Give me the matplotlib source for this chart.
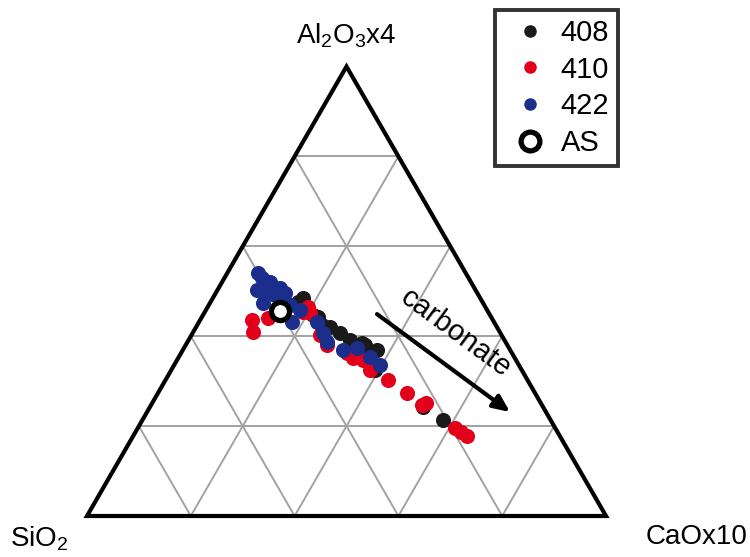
import numpy as np
import matplotlib
matplotlib.use('Agg')
from matplotlib import pyplot as plt
from matplotlib.lines import Line2D
import matplotlib.patches as patches

plt.rcParams['font.family'] = ['Liberation Sans', 'DejaVu Sans']
plt.rcParams['mathtext.fontset'] = 'custom'
plt.rcParams['mathtext.rm'] = 'Liberation Sans'
plt.rcParams['mathtext.default'] = 'regular'

# ---- compositions (%), columns: Al2O3x4, SiO2, CaOx10 ----
al_408 = [47.6, 44.3, 42.1, 40.7, 38.5, 36.5, 36.9, 38.0, 32.5, 24.3, 21.4, 44.7, 42.5, 39.2, 48.5]
si_408 = [35.5, 33.4, 32.2, 30.9, 27.8, 26.9, 25.7, 27.4, 28.3, 23.1, 20.7, 34.1, 33.5, 29.8, 34.1]
ca_408 = [16.9, 22.4, 25.8, 28.4, 33.7, 36.7, 37.4, 34.5, 39.3, 52.6, 57.9, 21.2, 24.0, 31.1, 17.4]

al_410 = [43.6, 40.9, 44.1, 45.4, 46.5, 45.2, 40.3, 38.0, 36.3, 35.2, 34.7, 32.5, 30.3, 27.4,
          24.7, 25.1, 19.6, 17.8, 18.7]
si_410 = [46.4, 47.6, 43.1, 35.7, 34.2, 34.4, 35.0, 34.7, 31.8, 31.2, 29.5, 29.2, 26.9, 24.7,
          23.1, 22.1, 19.3, 17.9, 18.6]
ca_410 = [10.0, 11.5, 12.8, 18.9, 19.3, 20.4, 24.7, 27.2, 32.0, 33.7, 35.8, 38.3, 42.9, 48.0,
          52.2, 52.8, 61.1, 64.3, 62.7]

al_422 = [54.1, 50.3, 53.0, 52.1, 50.7, 49.6, 47.4, 45.8, 43.2, 43.2, 40.7, 38.7, 36.9, 37.4,
          35.4, 33.6, 50.3, 49.2, 46.9]
si_422 = [40.0, 42.1, 39.8, 38.7, 37.5, 37.1, 42.4, 36.0, 38.9, 34.1, 34.2, 34.4, 32.2, 29.3,
          27.8, 26.8, 40.4, 39.2, 37.4]
ca_422 = [5.9, 7.6, 7.2, 9.2, 11.8, 13.3, 10.2, 18.1, 17.9, 22.7, 25.1, 26.9, 30.9, 33.3,
          36.8, 39.6, 9.4, 11.6, 15.6]

al_as, si_as, ca_as = [45.6], [40.0], [14.4]

grid_fracs = [0.2, 0.4, 0.6, 0.8]


def tern_xy(al, si, ca):
    al, si, ca = (np.asarray(v, dtype=float) for v in (al, si, ca))
    tot = al + si + ca
    a, c = al / tot, ca / tot
    return c + a / 2, a * np.sqrt(3) / 2


fig = plt.figure(figsize=(7.5, 5.57), dpi=100)
ax = fig.add_axes([0, 0, 1, 1])
ax.set_xlim(-87 / 519, 663 / 519)
ax.set_ylim(-41 / 519, 516 / 519)
ax.axis('off')

# grid lines
for f in grid_fracs:
    for p, q in [((f, 1 - f, 0), (f, 0, 1 - f)),
                 ((0, 1 - f, f), (1 - f, 0, f)),
                 ((0, f, 1 - f), (1 - f, f, 0))]:
        x0, y0 = tern_xy(*p)
        x1, y1 = tern_xy(*q)
        ax.plot([x0, x1], [y0, y1], color='#a2a2a2', lw=1.4, zorder=1)

# outline
tri = patches.Polygon([(0, 0), (1, 0), (0.5, np.sqrt(3) / 2)], closed=True,
                      fill=False, edgecolor='black', lw=3, joinstyle='miter', zorder=2)
ax.add_patch(tri)

c_blk, c_red, c_blu = '#1a1a1a', '#e3001b', '#1c2e8c'
ms = 118
ax.scatter(*tern_xy(al_408, si_408, ca_408), s=ms, color=c_blk, lw=0, zorder=3)
ax.scatter(*tern_xy(al_410, si_410, ca_410), s=ms, color=c_red, lw=0, zorder=4)
ax.scatter(*tern_xy(al_422, si_422, ca_422), s=ms, color=c_blu, lw=0, zorder=5)
ax.scatter(*tern_xy(al_as, si_as, ca_as), s=170, facecolor='white', edgecolor='black',
           linewidths=3.8, zorder=6)

# carbonate trend arrow
ax.annotate('', xy=(0.815, 0.2004), xytext=(0.5588, 0.389),
            arrowprops=dict(arrowstyle='-|>,head_length=1.0,head_width=0.45',
                            color='black', lw=3, shrinkA=0, shrinkB=0), zorder=7)
ax.text(0.711, 0.352, 'carbonate', rotation=-36.4, fontsize=21,
        ha='center', va='center', rotation_mode='anchor', zorder=7)

# apex labels
ax.text(0.5, 0.925, 'Al$_2$O$_3$x4', fontsize=20, ha='center', va='center')
ax.text(-0.148, -0.043, 'SiO$_2$', fontsize=20, ha='left', va='center')
ax.text(1.272, -0.041, 'CaOx10', fontsize=20, ha='right', va='center')

handles = [
    Line2D([], [], ls='none', marker='o', ms=8, color=c_blk, label='408'),
    Line2D([], [], ls='none', marker='o', ms=8, color=c_red, label='410'),
    Line2D([], [], ls='none', marker='o', ms=8, color=c_blu, label='422'),
    Line2D([], [], ls='none', marker='o', ms=13.5, mfc='white', mec='black', mew=3.8, label='AS'),
]
leg = ax.legend(handles=handles, loc='upper left', bbox_to_anchor=(495 / 750, 1 - 10 / 557),
                bbox_transform=fig.transFigure, fontsize=21, frameon=True, fancybox=False,
                handlelength=1.8, handletextpad=0.15, labelspacing=0.3, borderpad=0.3,
                borderaxespad=0)
leg.get_frame().set_edgecolor('black')
leg.get_frame().set_linewidth(2.8)

plt.savefig('out.png', dpi=100)
